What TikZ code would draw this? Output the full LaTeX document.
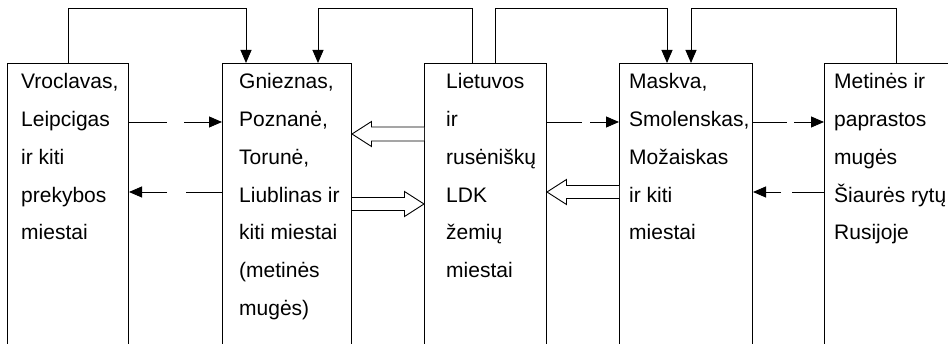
\documentclass[tikz,border=0pt]{standalone}
\usepackage{fontspec}
\setmainfont{Liberation Sans}
\usetikzlibrary{arrows.meta,calc}
\begin{document}
\begin{tikzpicture}[x=1pt,y=-1pt,
  box/.style={draw,line width=1pt,rectangle,anchor=north west,minimum height=320pt,inner sep=0pt},
  txt/.style={anchor=north west,align=left,inner sep=0pt,font=\fontsize{21}{37.7}\selectfont,
    execute at begin node={\rule{0pt}{20pt}}},
  conn/.style={line width=0.9pt,-{Triangle[length=13pt,width=11pt]}},
  hollowarr/.style={line width=0.9pt,fill=white}]
\useasboundingbox (0,0) rectangle (948,344);
\clip (0,0) rectangle (948,344);
\coordinate (topl) at (0,8);
% boxes
\node[box,minimum width=121pt] (b1) at (7,63) {};
\node[box,minimum width=129pt] (b2) at (222,63) {};
\node[box,minimum width=122pt] (b3) at (424,63) {};
\node[box,minimum width=133pt] (b4) at (619,63) {};
\node[box,minimum width=140pt] (b5) at (824,63) {};
% texts (first baseline at y = 93.5)
\node[txt] (t1) at (21,73.5) {Vroclavas,\\Leipcigas\\ir kiti\\prekybos\\miestai};
\node[txt] (t2) at (239,73.5) {Gnieznas,\\Poznanė,\\Torunė,\\Liublinas ir\\kiti miestai\\(metinės\\mugės)};
\node[txt] (t3) at (446,73.5) {Lietuvos\\ir\\rusėniškų\\LDK\\žemių\\miestai};
\node[txt] (t4) at (629,73.5) {Maskva,\\Smolenskas,\\Možaiskas\\ir kiti\\miestai};
\node[txt] (t5) at (834,73.5) {Metinės ir\\paprastos\\mugės\\Šiaurės rytų\\Rusijoje};
% top connectors
\coordinate (a1s) at ($(b1.north west)+(61,0)$);
\coordinate (a1e) at ($(b2.north west)+(24,0)$);
\coordinate (a2s) at ($(b3.north west)+(48,0)$);
\coordinate (a2e) at ($(b2.north west)+(96,0)$);
\coordinate (a3s) at ($(b3.north west)+(71,0)$);
\coordinate (a3e) at ($(b4.north west)+(48,0)$);
\coordinate (a4s) at ($(b5.north west)+(72,0)$);
\coordinate (a4e) at ($(b4.north west)+(72,0)$);
\draw[conn] (a1s) -- (a1s |- topl) -| (a1e);
\draw[conn] (a2s) -- (a2s |- topl) -| (a2e);
\draw[conn] (a3s) -- (a3s |- topl) -| (a3e);
\draw[conn] (a4s) -- (a4s |- topl) -| (a4e);
% dashed connectors
\draw[conn,dash pattern=on 38pt off 17pt on 200pt] ($(b1.north east)+(0,59)$) -- ($(b2.north west)+(0,59)$);
\draw[conn,dash pattern=on 36pt off 19pt on 200pt] ($(b2.north west)+(0,129)$) -- ($(b1.north east)+(0,129)$);
\draw[conn,dash pattern=on 35pt off 8pt on 200pt] ($(b3.north east)+(0,59)$) -- ($(b4.north west)+(0,59)$);
\draw[conn,dash pattern=on 34pt off 7pt on 200pt] ($(b4.north east)+(0,59)$) -- ($(b5.north west)+(0,59)$);
\draw[conn,dash pattern=on 32pt off 11pt on 200pt] ($(b5.north west)+(0,129)$) -- ($(b4.north east)+(0,129)$);
% hollow arrows
\coordinate (h1s) at ($(b3.north west)+(0,71)$);
\coordinate (h1t) at ($(b2.north east)+(0,71)$);
\draw[hollowarr] ($(h1s)+(0,-7)$) -- ($(h1t)+(19.5,-7)$) -- ($(h1t)+(19.5,-12.5)$) -- (h1t) -- ($(h1t)+(19.5,12.5)$) -- ($(h1t)+(19.5,7)$) -- ($(h1s)+(0,7)$);
\coordinate (h2s) at ($(b2.north east)+(0,141)$);
\coordinate (h2t) at ($(b3.north west)+(0,141)$);
\draw[hollowarr] ($(h2s)+(0,-6.5)$) -- ($(h2t)+(-19.5,-6.5)$) -- ($(h2t)+(-19.5,-12.5)$) -- (h2t) -- ($(h2t)+(-19.5,12.5)$) -- ($(h2t)+(-19.5,6.5)$) -- ($(h2s)+(0,6.5)$);
\coordinate (h3s) at ($(b4.north west)+(0,129)$);
\coordinate (h3t) at ($(b3.north east)+(0,129)$);
\draw[hollowarr] ($(h3s)+(0,-6.5)$) -- ($(h3t)+(19.5,-6.5)$) -- ($(h3t)+(19.5,-12.5)$) -- (h3t) -- ($(h3t)+(19.5,12.5)$) -- ($(h3t)+(19.5,6.5)$) -- ($(h3s)+(0,6.5)$);
\end{tikzpicture}
\end{document}
